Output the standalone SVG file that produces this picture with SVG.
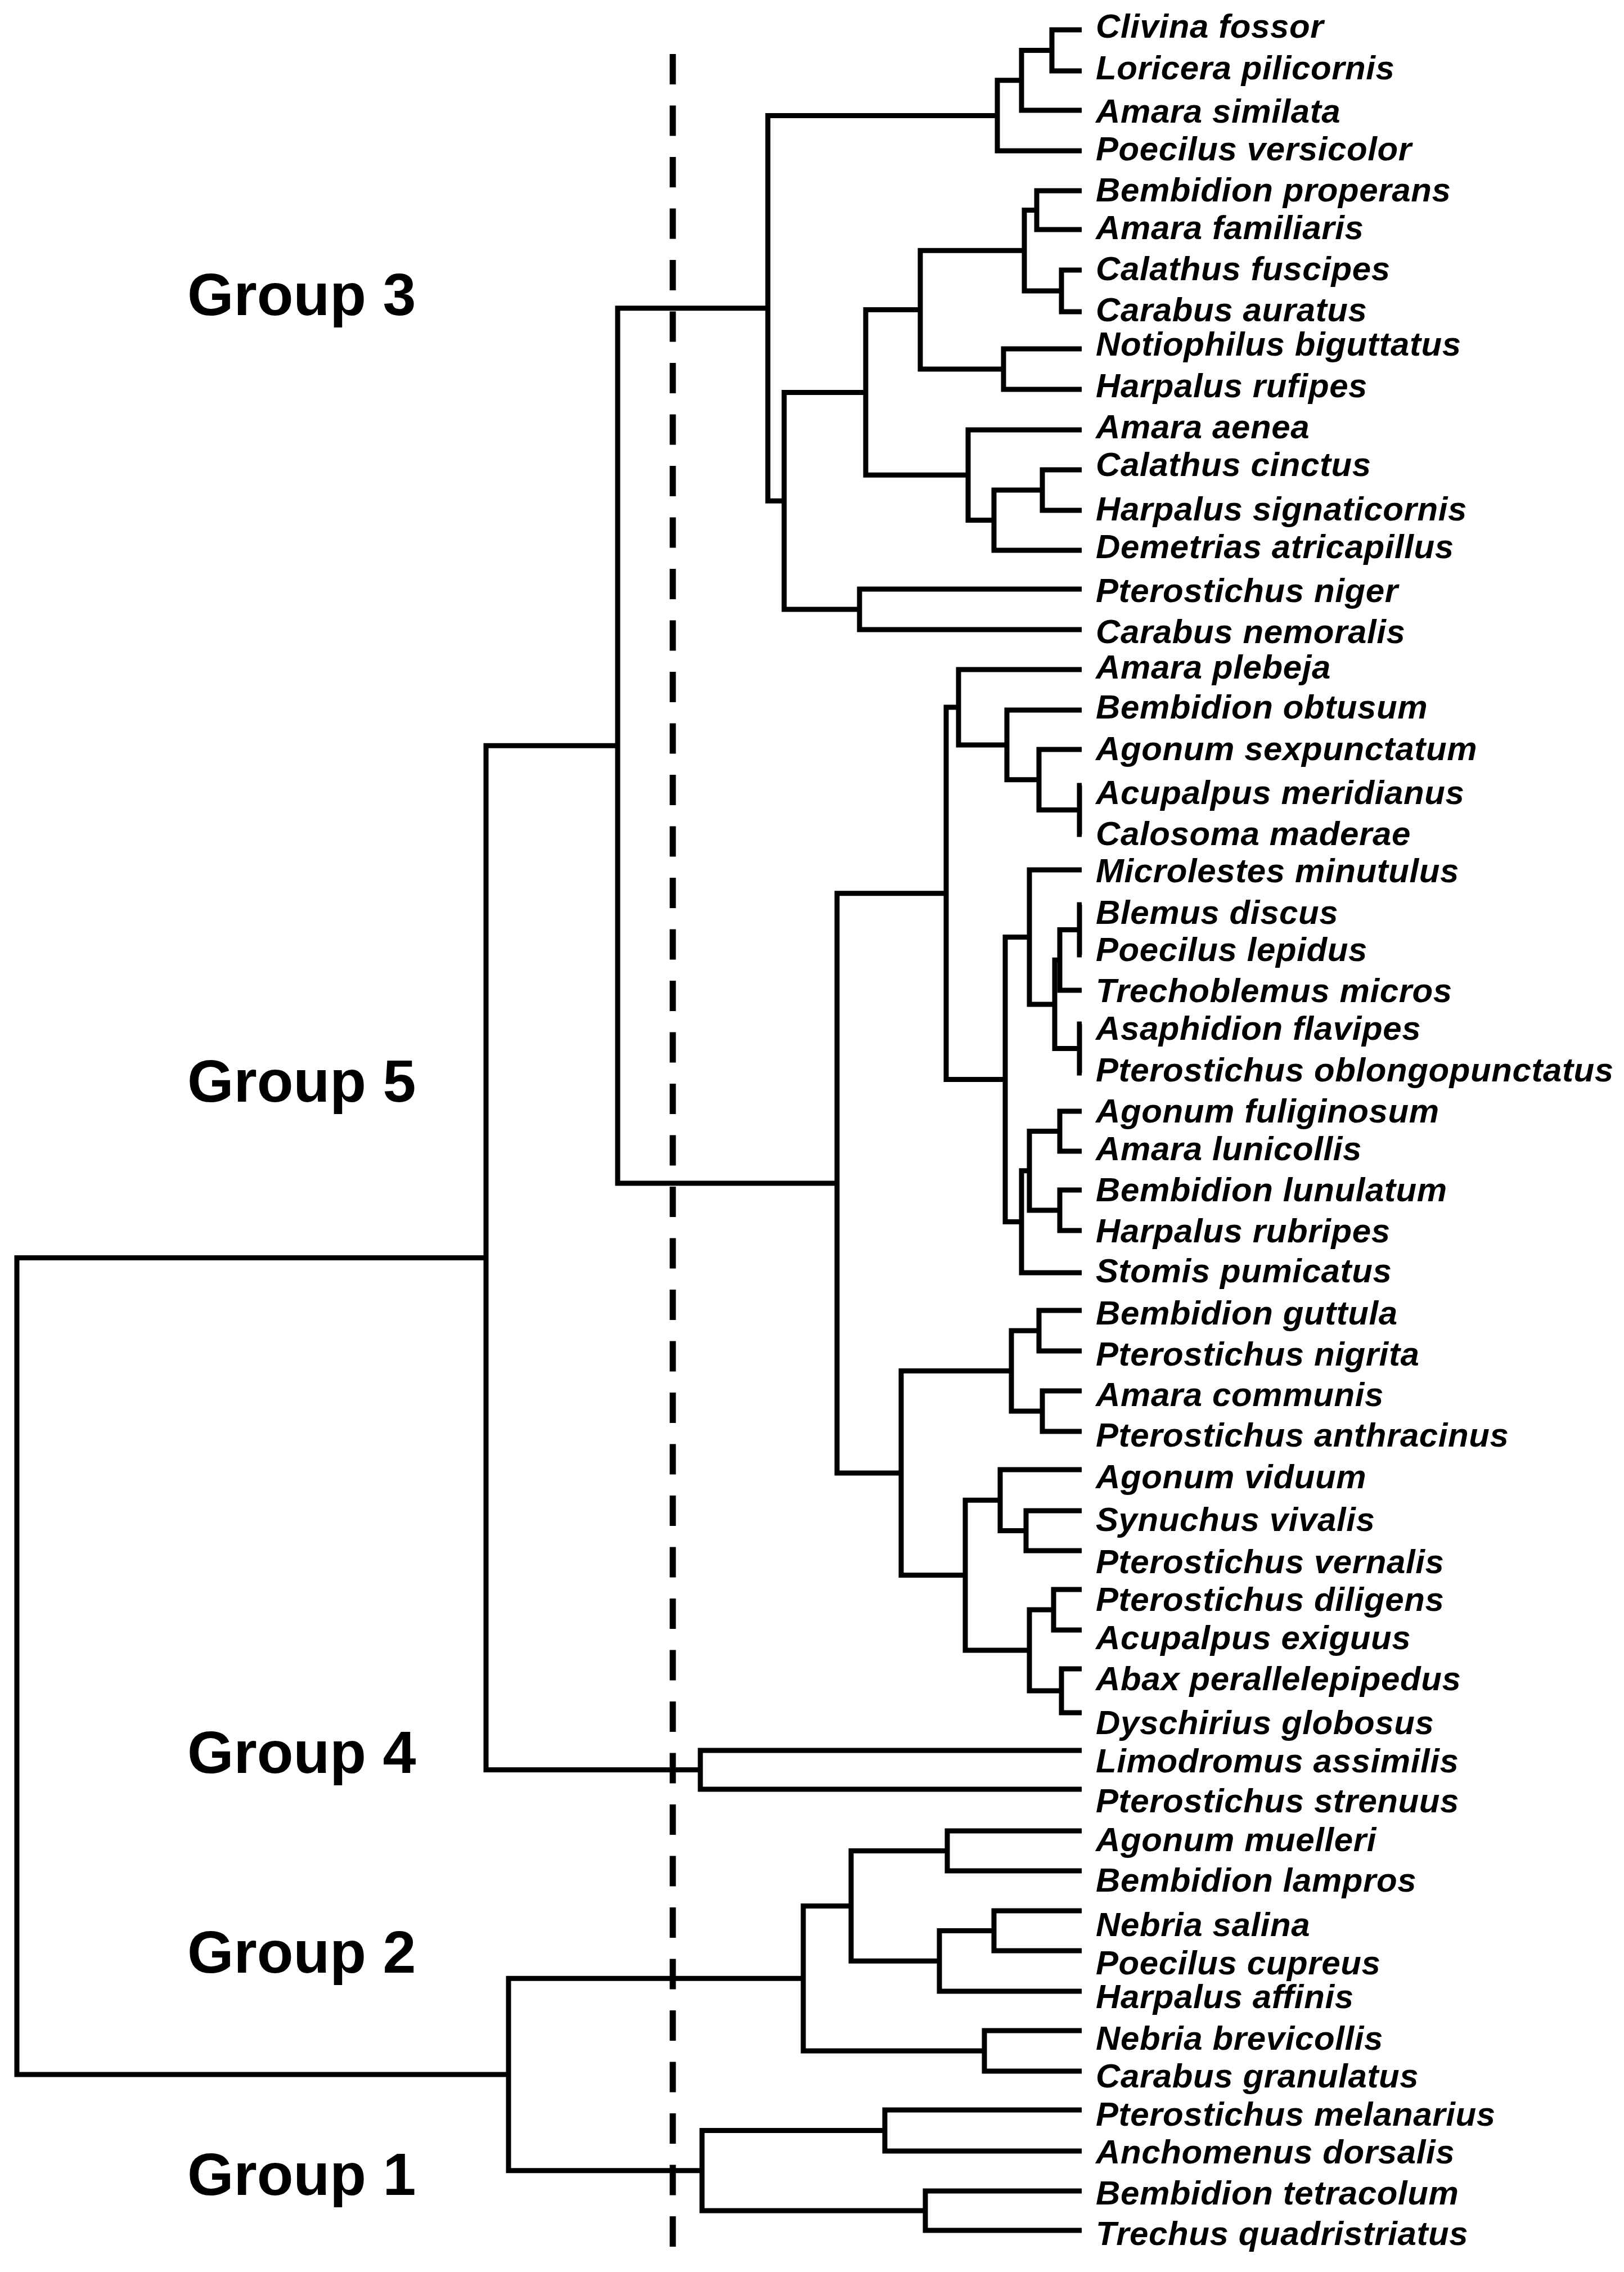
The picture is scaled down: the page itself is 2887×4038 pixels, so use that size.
<svg xmlns="http://www.w3.org/2000/svg" width="2887" height="4038" viewBox="0 0 2887 4038">
<style>
.br{fill:none;stroke:#000;stroke-width:9;stroke-linejoin:miter;stroke-linecap:butt}
.cut{fill:none;stroke:#000;stroke-width:11;stroke-dasharray:54 37.5}
.lf{font-family:"Liberation Sans",Arial,sans-serif;font-weight:bold;font-style:italic;font-size:60px;letter-spacing:0.6px;fill:#000}
.gp{font-family:"Liberation Sans",Arial,sans-serif;font-weight:bold;font-size:106px;fill:#000}
</style>
<rect width="2887" height="4038" fill="#fff"/>
<g id="connectors">
<path class="br" d="M 864 2235.4 H 30 V 3687 H 904"/>
<path class="br" d="M 1098 1325.3 H 864 V 3145.5 H 1245"/>
<path class="br" d="M 1365 547.8 H 1098 V 2102.9 H 1488"/>
<path class="br" d="M 1773 205.4 H 1365 V 890.2 H 1394"/>
<path class="br" d="M 1816 142.75 H 1773 V 268 H 1923"/>
<path class="br" d="M 1870 89.5 H 1816 V 196 H 1923"/>
<path class="br" d="M 1923 53 H 1870 V 126 H 1923"/>
<path class="br" d="M 1539 697.4 H 1394 V 1083 H 1528"/>
<path class="br" d="M 1636 550.6 H 1539 V 844.25 H 1721"/>
<path class="br" d="M 1821 445.25 H 1636 V 656 H 1784"/>
<path class="br" d="M 1843 373.5 H 1821 V 517 H 1887"/>
<path class="br" d="M 1923 339 H 1843 V 408 H 1923"/>
<path class="br" d="M 1923 480 H 1887 V 554 H 1923"/>
<path class="br" d="M 1923 620 H 1784 V 692 H 1923"/>
<path class="br" d="M 1923 764 H 1721 V 924.5 H 1767"/>
<path class="br" d="M 1853 871 H 1767 V 978 H 1923"/>
<path class="br" d="M 1923 835 H 1853 V 907 H 1923"/>
<path class="br" d="M 1923 1047 H 1528 V 1119 H 1923"/>
<path class="br" d="M 1682 1587.7 H 1488 V 2618 H 1602"/>
<path class="br" d="M 1704 1257 H 1682 V 1918.4 H 1787"/>
<path class="br" d="M 1923 1190 H 1704 V 1323.9 H 1790"/>
<path class="br" d="M 1923 1262 H 1790 V 1385.75 H 1847"/>
<path class="br" d="M 1923 1332 H 1847 V 1439.5 H 1919"/>
<path class="br" d="M 1923 1396 H 1919 V 1483 H 1923"/>
<path class="br" d="M 1830 1665.4 H 1787 V 2171.4 H 1816"/>
<path class="br" d="M 1923 1546 H 1830 V 1784.9 H 1875"/>
<path class="br" d="M 1884 1706.25 H 1875 V 1863.5 H 1919"/>
<path class="br" d="M 1919 1652.5 H 1884 V 1760 H 1923"/>
<path class="br" d="M 1923 1608 H 1919 V 1697 H 1923"/>
<path class="br" d="M 1923 1820 H 1919 V 1907 H 1923"/>
<path class="br" d="M 1830 2080.75 H 1816 V 2262 H 1923"/>
<path class="br" d="M 1884 2010.5 H 1830 V 2151 H 1884"/>
<path class="br" d="M 1923 1975 H 1884 V 2046 H 1923"/>
<path class="br" d="M 1923 2115 H 1884 V 2187 H 1923"/>
<path class="br" d="M 1798 2436.5 H 1602 V 2799.6 H 1716"/>
<path class="br" d="M 1847 2365 H 1798 V 2508 H 1853"/>
<path class="br" d="M 1923 2329 H 1847 V 2401 H 1923"/>
<path class="br" d="M 1923 2472 H 1853 V 2544 H 1923"/>
<path class="br" d="M 1778 2666.25 H 1716 V 2933 H 1830"/>
<path class="br" d="M 1923 2612 H 1778 V 2720.5 H 1824"/>
<path class="br" d="M 1923 2685 H 1824 V 2756 H 1923"/>
<path class="br" d="M 1873 2861 H 1830 V 3005 H 1887"/>
<path class="br" d="M 1923 2825 H 1873 V 2897 H 1923"/>
<path class="br" d="M 1923 2966 H 1887 V 3044 H 1923"/>
<path class="br" d="M 1923 3111 H 1245 V 3180 H 1923"/>
<path class="br" d="M 1428 3516.2 H 904 V 3857.75 H 1248"/>
<path class="br" d="M 1513 3387.4 H 1428 V 3645 H 1750"/>
<path class="br" d="M 1684 3289.5 H 1513 V 3485.25 H 1670"/>
<path class="br" d="M 1923 3254 H 1684 V 3325 H 1923"/>
<path class="br" d="M 1767 3431.5 H 1670 V 3539 H 1923"/>
<path class="br" d="M 1923 3396 H 1767 V 3467 H 1923"/>
<path class="br" d="M 1923 3609 H 1750 V 3681 H 1923"/>
<path class="br" d="M 1573 3786.5 H 1248 V 3929 H 1645"/>
<path class="br" d="M 1923 3750 H 1573 V 3823 H 1923"/>
<path class="br" d="M 1923 3894 H 1645 V 3964 H 1923"/>
<path id="cut-line" class="cut" d="M 1196 96 V 3995"/>
</g>
<g id="group-labels">
<g id="group3"><text class="gp" x="333" y="560">Group 3</text></g>
<g id="group5"><text class="gp" x="333" y="1958">Group 5</text></g>
<g id="group4"><text class="gp" x="333" y="3151">Group 4</text></g>
<g id="group2"><text class="gp" x="333" y="3506">Group 2</text></g>
<g id="group1"><text class="gp" x="333" y="3901">Group 1</text></g>
</g>
<g id="leaves">
<g id="leaf1"><text class="lf" x="1948" y="67">Clivina fossor</text></g>
<g id="leaf2"><text class="lf" x="1948" y="141">Loricera pilicornis</text></g>
<g id="leaf3"><text class="lf" x="1948" y="218">Amara similata</text></g>
<g id="leaf4"><text class="lf" x="1948" y="285">Poecilus versicolor</text></g>
<g id="leaf5"><text class="lf" x="1948" y="358">Bembidion properans</text></g>
<g id="leaf6"><text class="lf" x="1948" y="425">Amara familiaris</text></g>
<g id="leaf7"><text class="lf" x="1948" y="498">Calathus fuscipes</text></g>
<g id="leaf8"><text class="lf" x="1948" y="571">Carabus auratus</text></g>
<g id="leaf9"><text class="lf" x="1948" y="632">Notiophilus biguttatus</text></g>
<g id="leaf10"><text class="lf" x="1948" y="706">Harpalus rufipes</text></g>
<g id="leaf11"><text class="lf" x="1948" y="779">Amara aenea</text></g>
<g id="leaf12"><text class="lf" x="1948" y="846">Calathus cinctus</text></g>
<g id="leaf13"><text class="lf" x="1948" y="925">Harpalus signaticornis</text></g>
<g id="leaf14"><text class="lf" x="1948" y="992">Demetrias atricapillus</text></g>
<g id="leaf15"><text class="lf" x="1948" y="1070">Pterostichus niger</text></g>
<g id="leaf16"><text class="lf" x="1948" y="1143">Carabus nemoralis</text></g>
<g id="leaf17"><text class="lf" x="1948" y="1206">Amara plebeja</text></g>
<g id="leaf18"><text class="lf" x="1948" y="1277">Bembidion obtusum</text></g>
<g id="leaf19"><text class="lf" x="1948" y="1351">Agonum sexpunctatum</text></g>
<g id="leaf20"><text class="lf" x="1948" y="1429">Acupalpus meridianus</text></g>
<g id="leaf21"><text class="lf" x="1948" y="1502">Calosoma maderae</text></g>
<g id="leaf22"><text class="lf" x="1948" y="1568">Microlestes minutulus</text></g>
<g id="leaf23"><text class="lf" x="1948" y="1642">Blemus discus</text></g>
<g id="leaf24"><text class="lf" x="1948" y="1708">Poecilus lepidus</text></g>
<g id="leaf25"><text class="lf" x="1948" y="1781">Trechoblemus micros</text></g>
<g id="leaf26"><text class="lf" x="1948" y="1848">Asaphidion flavipes</text></g>
<g id="leaf27"><text class="lf" x="1948" y="1922">Pterostichus oblongopunctatus</text></g>
<g id="leaf28"><text class="lf" x="1948" y="1995">Agonum fuliginosum</text></g>
<g id="leaf29"><text class="lf" x="1948" y="2062">Amara lunicollis</text></g>
<g id="leaf30"><text class="lf" x="1948" y="2135">Bembidion lunulatum</text></g>
<g id="leaf31"><text class="lf" x="1948" y="2208">Harpalus rubripes</text></g>
<g id="leaf32"><text class="lf" x="1948" y="2279">Stomis pumicatus</text></g>
<g id="leaf33"><text class="lf" x="1948" y="2354">Bembidion guttula</text></g>
<g id="leaf34"><text class="lf" x="1948" y="2427">Pterostichus nigrita</text></g>
<g id="leaf35"><text class="lf" x="1948" y="2499">Amara communis</text></g>
<g id="leaf36"><text class="lf" x="1948" y="2571">Pterostichus anthracinus</text></g>
<g id="leaf37"><text class="lf" x="1948" y="2645">Agonum viduum</text></g>
<g id="leaf38"><text class="lf" x="1948" y="2721">Synuchus vivalis</text></g>
<g id="leaf39"><text class="lf" x="1948" y="2796">Pterostichus vernalis</text></g>
<g id="leaf40"><text class="lf" x="1948" y="2863">Pterostichus diligens</text></g>
<g id="leaf41"><text class="lf" x="1948" y="2931">Acupalpus exiguus</text></g>
<g id="leaf42"><text class="lf" x="1948" y="3004">Abax perallelepipedus</text></g>
<g id="leaf43"><text class="lf" x="1948" y="3082">Dyschirius globosus</text></g>
<g id="leaf44"><text class="lf" x="1948" y="3150">Limodromus assimilis</text></g>
<g id="leaf45"><text class="lf" x="1948" y="3221">Pterostichus strenuus</text></g>
<g id="leaf46"><text class="lf" x="1948" y="3290">Agonum muelleri</text></g>
<g id="leaf47"><text class="lf" x="1948" y="3362">Bembidion lampros</text></g>
<g id="leaf48"><text class="lf" x="1948" y="3441">Nebria salina</text></g>
<g id="leaf49"><text class="lf" x="1948" y="3509">Poecilus cupreus</text></g>
<g id="leaf50"><text class="lf" x="1948" y="3569">Harpalus affinis</text></g>
<g id="leaf51"><text class="lf" x="1948" y="3643">Nebria brevicollis</text></g>
<g id="leaf52"><text class="lf" x="1948" y="3710">Carabus granulatus</text></g>
<g id="leaf53"><text class="lf" x="1948" y="3778">Pterostichus melanarius</text></g>
<g id="leaf54"><text class="lf" x="1948" y="3845">Anchomenus dorsalis</text></g>
<g id="leaf55"><text class="lf" x="1948" y="3918">Bembidion tetracolum</text></g>
<g id="leaf56"><text class="lf" x="1948" y="3990">Trechus quadristriatus</text></g>
</g>
</svg>
